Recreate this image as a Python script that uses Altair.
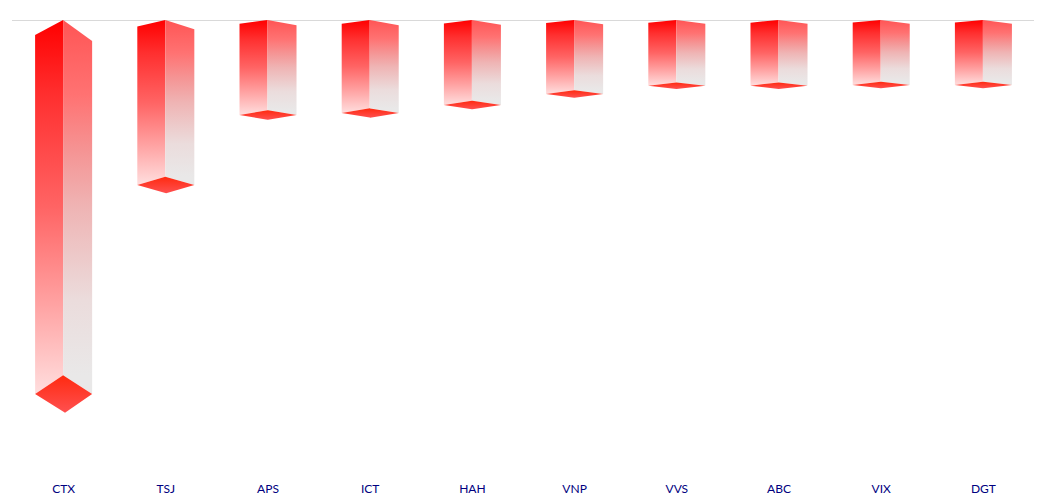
import altair as alt
import pandas as pd

tickers = ["CTX", "TSJ", "APS", "ICT", "HAH", "VNP", "VVS", "ABC", "VIX", "DGT"]
values = [374, 165, 95, 93, 85, 74, 65.7, 65.7, 65, 65]
baseline = [0.5]

HALF_L, HALF_R = 0.274, 0.284   # half widths of a bar, in category units
BOTTOM_D, TOP_L, TOP_R = 0.05, 0.04, 0.056  # perspective, as shares of a bar's value
FRONT_SHIFT = 0.00005


def lerp(a, b, t):
    return a + (b - a) * t


left_rows, right_rows, base_rows = [], [], []
for i, v in enumerate(values):
    d = BOTTOM_D * v
    left_rows += [
        dict(k=i, x=i - HALF_L, y=TOP_L * v, y2=v),
        dict(k=i, x=i, y=0, y2=v - d),
    ]
    right_rows += [
        dict(k=i, x=i, y=0, y2=v - d),
        dict(k=i, x=i + HALF_R, y=TOP_R * v, y2=v),
    ]
    s = FRONT_SHIFT * v
    xl, xr, xf = i - HALF_L, i + HALF_R, i + s
    base_rows += [
        dict(k=i, x=xl, y=v, y2=v),
        dict(k=i, x=i, y=v - d, y2=lerp(v, v + d, (i - xl) / (xf - xl))),
        dict(k=i, x=xf, y=lerp(v - d, v, (xf - i) / (xr - i)), y2=v + d),
        dict(k=i, x=xr, y=v, y2=v),
    ]

x_scale = alt.Scale(domain=[-0.5, 9.5], nice=False, zero=False)
y_scale = alt.Scale(domain=[0, 460], reverse=True, nice=False, zero=False)
names_js = "[" + ",".join(f"'{t}'" for t in tickers) + "]"
x_axis = alt.Axis(
    values=list(range(10)), labelExpr=f"{names_js}[datum.value]",
    title=None, domain=False, ticks=False, grid=False,
    labelFont="Lato", labelFontSize=12, labelColor="#000080",
    labelPadding=3, labelAngle=0, labelOverlap=False, labelFlush=False,
)


def grad(*stops):
    return alt.LinearGradient(
        gradient="linear", x1=0, x2=0, y1=0, y2=1,
        stops=[alt.GradientStop(offset=o, color=c) for o, c in stops],
    )


def face(rows, fill):
    return alt.Chart(pd.DataFrame(rows)).mark_area(
        color=fill, line=False, interpolate="linear"
    ).encode(
        x=alt.X("x:Q", scale=x_scale, axis=x_axis),
        y=alt.Y("y:Q", scale=y_scale, axis=None),
        y2="y2:Q",
        detail="k:N",
    )


top_rule = alt.Chart(pd.DataFrame({"y": baseline})).mark_rule(
    color="#d9d9d9", strokeWidth=1
).encode(y=alt.Y("y:Q", scale=y_scale, axis=None))

left = face(left_rows, grad((0, "#ff0000"), (0.2, "#ff2f2f"), (0.5, "#ff6464"), (0.75, "#ffa0a0"), (1, "#ffdede")))
right = face(right_rows, grad((0, "#ff5555"), (0.2, "#ff7272"), (0.35, "#f59494"), (0.5, "#efb4b4"), (0.75, "#ebdcdc"), (0.95, "#e9e8e8")))
base = face(base_rows, grad((0, "#ff2a10"), (1, "#ff5050")))

chart = alt.layer(top_rule, left, right, base).properties(
    width=1022, height=460,
    padding={"left": 4, "top": 12, "right": 10, "bottom": 19},
    autosize=alt.AutoSizeParams(type="none"),
).configure_view(stroke=None)

chart.save("out.html", embed_options={"renderer": "svg", "actions": False})
